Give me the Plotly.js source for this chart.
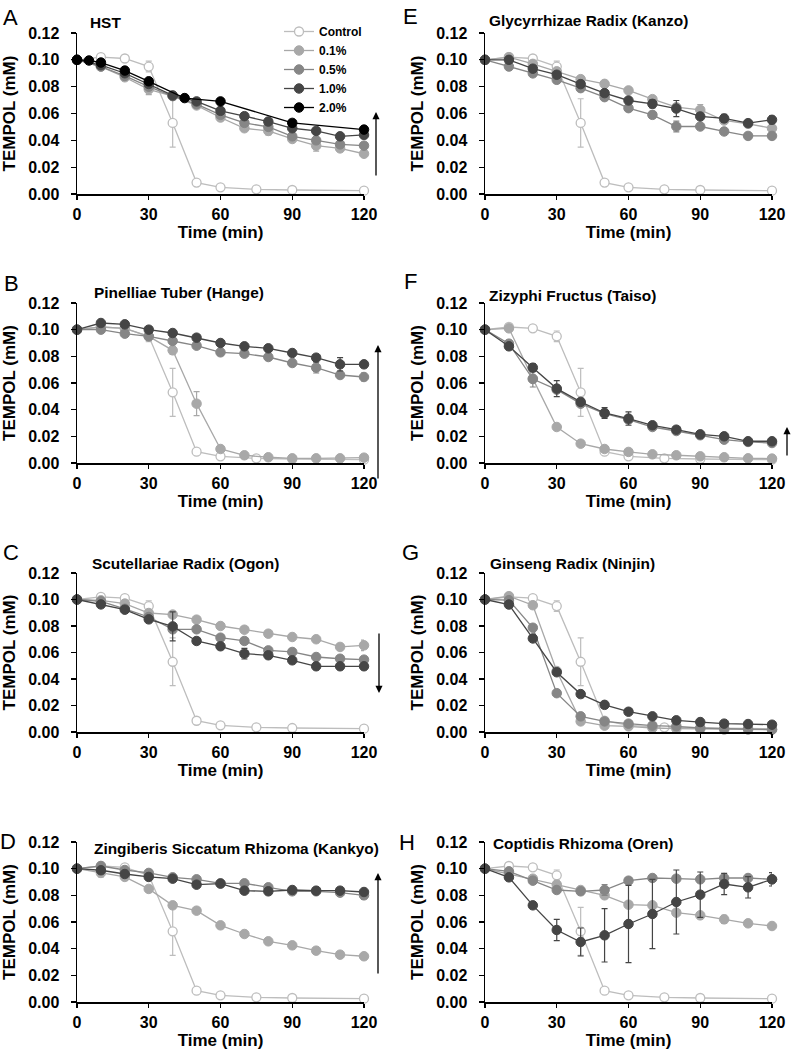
<!DOCTYPE html>
<html>
<head>
<meta charset="utf-8">
<script src="https://cdn.plot.ly/plotly-3.0.1.min.js"></script>
<style>html,body{margin:0;padding:0;background:#fff;}#chart{width:798px;height:1052px;}</style>
</head>
<body>
<div id="chart"></div>
<script>
// ---------- DATA ----------
const seriesNames = ["Control", "0.1%", "0.5%", "1.0%", "2.0%"];
const timeCtrl = [0, 10, 20, 30, 40, 50, 60, 75, 90, 120];
const time13 = [0, 10, 20, 30, 40, 50, 60, 70, 80, 90, 100, 110, 120];
const timeHst20 = [0, 5, 10, 20, 30, 45, 60, 90, 120];
const xTicks = [0, 30, 60, 90, 120];

const ctrl = [0.100, 0.102, 0.101, 0.095, 0.053, 0.0085, 0.005, 0.0035, 0.003, 0.0025];
const ctrlErr = [0, 0, 0, 0.004, 0.018, 0, 0, 0, 0, 0];

// A  HST
const hst01 = [0.100, 0.095, 0.087, 0.078, 0.073, 0.066, 0.057, 0.049, 0.047, 0.041, 0.036, 0.034, 0.030];
const hst01Err = [0, 0, 0, 0.004, 0, 0, 0, 0, 0.003, 0, 0.004, 0, 0];
const hst05 = [0.100, 0.095, 0.088, 0.080, 0.073, 0.067, 0.059, 0.053, 0.050, 0.043, 0.040, 0.037, 0.036];
const hst10 = [0.100, 0.096, 0.090, 0.082, 0.0735, 0.069, 0.062, 0.058, 0.054, 0.049, 0.047, 0.043, 0.044];
const hst20 = [0.100, 0.0995, 0.098, 0.092, 0.084, 0.0715, 0.069, 0.053, 0.048];

// B  Pinelliae Tuber (Hange)
const hange01 = [0.100, 0.102, 0.101, 0.095, 0.0845, 0.0445, 0.0105, 0.0058, 0.0043, 0.0035, 0.0035, 0.0035, 0.004];
const hange01Err = [0, 0, 0, 0, 0.003, 0.009, 0, 0, 0, 0, 0, 0, 0];
const hange05 = [0.100, 0.100, 0.097, 0.095, 0.0915, 0.088, 0.083, 0.082, 0.0795, 0.075, 0.0715, 0.066, 0.0645];
const hange05Err = [0, 0, 0, 0, 0, 0, 0, 0, 0, 0, 0.004, 0, 0.003];
const hange10 = [0.100, 0.105, 0.104, 0.100, 0.0975, 0.094, 0.090, 0.0875, 0.086, 0.0825, 0.079, 0.074, 0.074];
const hange10Err = [0, 0, 0, 0, 0, 0, 0, 0, 0, 0, 0, 0.005, 0];

// C  Scutellariae Radix (Ogon)
const ogon01 = [0.100, 0.0994, 0.0969, 0.0898, 0.0886, 0.0848, 0.080, 0.0772, 0.0742, 0.0717, 0.070, 0.0642, 0.0654];
const ogon01Err = [0, 0, 0, 0, 0, 0, 0, 0, 0, 0, 0, 0, 0.004];
const ogon05 = [0.100, 0.0986, 0.093, 0.0868, 0.0775, 0.0775, 0.0712, 0.0687, 0.0616, 0.0604, 0.0566, 0.0553, 0.0546];
const ogon10 = [0.100, 0.0963, 0.0923, 0.085, 0.0797, 0.0687, 0.0647, 0.0591, 0.0579, 0.0541, 0.0496, 0.0496, 0.0496];
const ogon10Err = [0, 0, 0, 0, 0.011, 0, 0, 0.004, 0, 0, 0, 0, 0];

// D  Zingiberis Siccatum Rhizoma (Kankyo)
const kankyo01 = [0.100, 0.0968, 0.0938, 0.0848, 0.0725, 0.0685, 0.0575, 0.051, 0.0455, 0.0425, 0.0385, 0.0355, 0.0343];
const kankyo01Err = [0, 0.003, 0, 0, 0, 0, 0, 0, 0, 0, 0, 0, 0];
const kankyo05 = [0.100, 0.102, 0.099, 0.0968, 0.0935, 0.092, 0.089, 0.089, 0.086, 0.083, 0.083, 0.082, 0.080];
const kankyo05Err = [0, 0, 0, 0, 0, 0, 0, 0, 0, 0, 0, 0, 0.003];
const kankyo10 = [0.100, 0.0988, 0.096, 0.0938, 0.0925, 0.088, 0.0888, 0.0835, 0.083, 0.084, 0.0835, 0.0835, 0.0825];

// E  Glycyrrhizae Radix (Kanzo)
const kanzo01 = [0.100, 0.102, 0.097, 0.0914, 0.0856, 0.0821, 0.0772, 0.0707, 0.0647, 0.0627, 0.0548, 0.0523, 0.049];
const kanzo01Err = [0, 0, 0, 0, 0, 0, 0, 0, 0, 0.004, 0, 0, 0];
const kanzo05 = [0.100, 0.095, 0.0899, 0.0851, 0.0789, 0.0722, 0.064, 0.059, 0.0503, 0.0503, 0.0466, 0.0433, 0.0433];
const kanzo05Err = [0, 0, 0, 0, 0, 0, 0, 0, 0.004, 0, 0, 0, 0];
const kanzo10 = [0.100, 0.100, 0.0934, 0.0889, 0.0819, 0.0752, 0.0697, 0.0672, 0.0637, 0.0578, 0.0563, 0.0528, 0.0553];
const kanzo10Err = [0, 0, 0, 0, 0, 0, 0, 0.003, 0.006, 0, 0.003, 0, 0.003];

// F  Zizyphi Fructus (Taiso)
const taiso01 = [0.100, 0.101, 0.0633, 0.027, 0.0145, 0.0105, 0.0083, 0.0065, 0.0058, 0.005, 0.0043, 0.0035, 0.0033];
const taiso05 = [0.100, 0.0895, 0.063, 0.055, 0.0445, 0.037, 0.0325, 0.027, 0.024, 0.0208, 0.0175, 0.0158, 0.015];
const taiso05Err = [0, 0, 0.006, 0, 0, 0, 0, 0, 0, 0, 0, 0, 0];
const taiso10 = [0.100, 0.0875, 0.0715, 0.0558, 0.0458, 0.0375, 0.0333, 0.0283, 0.025, 0.0215, 0.020, 0.0163, 0.0163];
const taiso10Err = [0, 0, 0.003, 0.006, 0, 0.004, 0.005, 0, 0, 0, 0, 0, 0];

// G  Ginseng Radix (Ninjin)
const ninjin01 = [0.100, 0.1025, 0.0957, 0.046, 0.008, 0.0048, 0.0043, 0.003, 0.0025, 0.0023, 0.0018, 0.0018, 0.0018];
const ninjin05 = [0.100, 0.0995, 0.0787, 0.0293, 0.0118, 0.008, 0.0063, 0.0048, 0.0043, 0.003, 0.0025, 0.0023, 0.0018];
const ninjin10 = [0.100, 0.0962, 0.0706, 0.0451, 0.0286, 0.0205, 0.0153, 0.0118, 0.0088, 0.0075, 0.0063, 0.006, 0.0055];

// H  Coptidis Rhizoma (Oren)
const oren01 = [0.100, 0.096, 0.0925, 0.088, 0.084, 0.080, 0.073, 0.0725, 0.067, 0.065, 0.062, 0.059, 0.057];
const oren01Err = [0, 0, 0, 0, 0, 0, 0, 0, 0, 0, 0.003, 0, 0];
const oren05 = [0.100, 0.098, 0.091, 0.084, 0.083, 0.084, 0.091, 0.093, 0.0925, 0.092, 0.093, 0.093, 0.092];
const oren05Err = [0, 0, 0, 0, 0, 0.004, 0, 0, 0, 0, 0, 0, 0];
const oren10 = [0.100, 0.0935, 0.0725, 0.054, 0.045, 0.050, 0.0585, 0.066, 0.075, 0.0805, 0.0885, 0.086, 0.092];
const oren10Err = [0, 0, 0, 0.008, 0.0105, 0.02, 0.029, 0.026, 0.024, 0.017, 0.008, 0.008, 0.005];

const panelLetters = ["A", "B", "C", "D", "E", "F", "G", "H"];
const panelTitles = ["HST", "Pinelliae Tuber (Hange)", "Scutellariae Radix (Ogon)", "Zingiberis Siccatum Rhizoma (Kankyo)",
  "Glycyrrhizae Radix (Kanzo)", "Zizyphi Fructus (Taiso)", "Ginseng Radix (Ninjin)", "Coptidis Rhizoma (Oren)"];

// ---------- STYLE ----------
const W = 798, H = 1052;
const FONT = "Liberation Sans, Arial, Helvetica, sans-serif";
const colors = { ctrl: "#bdbdbd", p01: "#a8a8a8", p05: "#868686", p10: "#454545", p20: "#000000" };
const colLeft = [77, 364], colRight = [485, 772];
const rows = [[33, 194], [303, 463], [573, 732], [842, 1002]];

const panels = [
  { col: 0, row: 0, series: [["p01", time13, hst01, hst01Err], ["p05", time13, hst05], ["p10", time13, hst10], ["p20", timeHst20, hst20]] },
  { col: 0, row: 1, series: [["p01", time13, hange01, hange01Err], ["p05", time13, hange05, hange05Err], ["p10", time13, hange10, hange10Err]] },
  { col: 0, row: 2, series: [["p01", time13, ogon01, ogon01Err], ["p05", time13, ogon05], ["p10", time13, ogon10, ogon10Err]] },
  { col: 0, row: 3, series: [["p01", time13, kankyo01, kankyo01Err], ["p05", time13, kankyo05, kankyo05Err], ["p10", time13, kankyo10]] },
  { col: 1, row: 0, series: [["p01", time13, kanzo01, kanzo01Err], ["p05", time13, kanzo05, kanzo05Err], ["p10", time13, kanzo10, kanzo10Err]] },
  { col: 1, row: 1, series: [["p01", time13, taiso01], ["p05", time13, taiso05, taiso05Err], ["p10", time13, taiso10, taiso10Err]] },
  { col: 1, row: 2, series: [["p01", time13, ninjin01], ["p05", time13, ninjin05], ["p10", time13, ninjin10]] },
  { col: 1, row: 3, series: [["p01", time13, oren01, oren01Err], ["p05", time13, oren05, oren05Err], ["p10", time13, oren10, oren10Err]] }
];
const nameOf = { p01: seriesNames[1], p05: seriesNames[2], p10: seriesNames[3], p20: seriesNames[4] };

const traces = [];
const layout = {
  width: W, height: H,
  margin: { l: 0, r: 0, t: 0, b: 0 },
  paper_bgcolor: "#fff", plot_bgcolor: "rgba(0,0,0,0)",
  font: { family: FONT, color: "#000" },
  showlegend: true,
  legend: {
    x: 279 / W, y: 1 - 17 / H, xanchor: "left", yanchor: "top",
    bgcolor: "rgba(0,0,0,0)", font: { family: FONT, size: 12, weight: "bold", color: "#000" },
    tracegroupgap: 0, itemwidth: 30
  },
  annotations: []
};

panels.forEach((p, i) => {
  const n = i + 1;
  const xa = "x" + (n === 1 ? "" : n), ya = "y" + (n === 1 ? "" : n);
  const xk = "xaxis" + (n === 1 ? "" : n), yk = "yaxis" + (n === 1 ? "" : n);
  const cx = p.col === 0 ? colLeft : colRight;
  const ry = rows[p.row];
  layout[xk] = {
    domain: [cx[0] / W, cx[1] / W], anchor: ya,
    range: [0, 120], tickvals: xTicks, ticktext: xTicks.map(String),
    showline: true, linecolor: "#000", linewidth: 1.5,
    ticks: "outside", ticklen: 4, tickwidth: 1.2, tickcolor: "#000",
    showgrid: false, zeroline: false,
    tickfont: { family: FONT, size: 16, weight: "bold", color: "#000" },
    ticklabelstandoff: 1,
    title: { text: "Time (min)", font: { family: FONT, size: 17, weight: "bold", color: "#000" }, standoff: 0 }
  };
  layout[yk] = {
    domain: [1 - ry[1] / H, 1 - ry[0] / H], anchor: xa,
    range: [0, 0.12], dtick: 0.02, tick0: 0, tickformat: ".2f",
    showline: true, linecolor: "#000", linewidth: 1.5,
    ticks: "outside", ticklen: 5, tickwidth: 1.2, tickcolor: "#000",
    showgrid: false, zeroline: false,
    tickfont: { family: FONT, size: 16, weight: "bold", color: "#000" },
    ticklabelstandoff: 8,
    title: { text: "TEMPOL (mM)", font: { family: FONT, size: 17, weight: "bold", color: "#000" }, standoff: 8 }
  };

  traces.push({
    type: "scatter", mode: "lines+markers", x: timeCtrl, y: ctrl, xaxis: xa, yaxis: ya,
    name: seriesNames[0], showlegend: n === 1, cliponaxis: false,
    line: { color: colors.ctrl, width: 1.3 },
    marker: { size: 9, color: "#ffffff", line: { color: colors.ctrl, width: 1.3 } },
    error_y: { type: "data", array: ctrlErr, visible: true, color: colors.ctrl, thickness: 1.2, width: 3 }
  });
  p.series.forEach(s => {
    const key = s[0];
    const tr = {
      type: "scatter", mode: "lines+markers", x: s[1], y: s[2], xaxis: xa, yaxis: ya,
      name: nameOf[key], showlegend: n === 1, cliponaxis: false,
      line: { color: colors[key], width: 1.3 },
      marker: { size: 9.5, color: colors[key], line: { color: colors[key], width: 1 } }
    };
    if (s[3]) tr.error_y = { type: "data", array: s[3], visible: true, color: colors[key], thickness: 1.2, width: 3 };
    traces.push(tr);
  });
});

// panel letters and titles
const letterPos = [[10, 18], [11, 283], [11, 552], [8, 841], [410, 16], [410, 281], [410, 552], [407, 842]];
const titlePos = [[88, 22], [92, 293], [90, 563], [92, 848], [487, 21], [487, 295], [488, 563], [491, 843]];
panelLetters.forEach((L, i) => {
  layout.annotations.push({
    xref: "paper", yref: "paper", x: letterPos[i][0] / W, y: 1 - letterPos[i][1] / H,
    xanchor: "center", yanchor: "middle", showarrow: false, text: L,
    font: { family: FONT, size: 22, color: "#000" }
  });
  layout.annotations.push({
    xref: "paper", yref: "paper", x: titlePos[i][0] / W, y: 1 - titlePos[i][1] / H,
    xanchor: "left", yanchor: "middle", showarrow: false, text: panelTitles[i],
    font: { family: FONT, size: 15.4, weight: "bold", color: "#000" }
  });
});

// trend arrows (pixel positions on the page)
const arrows = [
  { x: 376, head: 112, tail: 177 },
  { x: 378, head: 345, tail: 480 },
  { x: 379, head: 693, tail: 632 },
  { x: 378, head: 873, tail: 975 },
  { x: 787, head: 427, tail: 457 }
];
arrows.forEach(a => {
  layout.annotations.push({
    xref: "paper", yref: "paper", x: a.x / W, y: 1 - a.head / H,
    ax: 0, ay: a.tail - a.head, text: "",
    showarrow: true, arrowhead: 2, arrowsize: 1.1, arrowwidth: 1.3, arrowcolor: "#000"
  });
});

Plotly.newPlot("chart", traces, layout, { staticPlot: true, displayModeBar: false });
</script>
</body>
</html>
